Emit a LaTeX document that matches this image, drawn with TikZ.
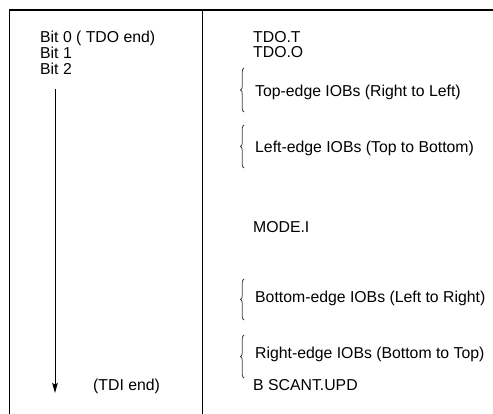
\documentclass[tikz,border=0pt]{standalone}
\usepackage{fontspec}
\setmainfont{Liberation Sans}
\usepackage{tikz}
\usetikzlibrary{arrows.meta, decorations.pathreplacing}

\tikzset{
  lbl/.style={anchor=base west, inner sep=0pt, font=\fontsize{15.8}{18}\selectfont},
  grp/.style={decorate, decoration={brace, amplitude=3.5pt}, line width=0.8pt, black!75}
}

\begin{document}
\begin{tikzpicture}[x=1pt, y=-1pt]
  \useasboundingbox (0,0) rectangle (493,414);
  % Frame
  \draw[line width=1.6pt] (9,10) -- (493,10);
  \draw[line width=1pt] (9,10) -- (9,414);
  \draw[line width=1pt] (202,10) -- (202,414);

  % Left column: bit order
  \node[lbl] (bit0) at (40,43) {Bit 0 ( TDO end)};
  \node[lbl] (bit1) at (40,59) {Bit 1};
  \node[lbl] (bit2) at (40,75) {Bit 2};
  \node[lbl] (tdi) at (93,390) {(TDI end)};
  \coordinate (atop) at (55,89);
  \coordinate (abot) at (55,393);
  \draw[line width=1pt, -{Stealth[length=10pt, width=5.5pt, inset=1.5pt]}] (atop) -- (abot);

  % Right column: register contents
  \node[lbl] (tdot) at (253,43) {TDO.T};
  \node[lbl] (tdoo) at (253,58) {TDO.O};
  \node[lbl] (top) at (255,97) {Top-edge IOBs (Right to Left)};
  \node[lbl] (left) at (255,153) {Left-edge IOBs (Top to Bottom)};
  \node[lbl] (mode) at (253,233) {MODE.I};
  \node[lbl] (bottom) at (255,302) {Bottom-edge IOBs (Left to Right)};
  \node[lbl] (right) at (255,358) {Right-edge IOBs (Bottom to Top)};
  \node[lbl] (upd) at (253,390) {B SCANT.UPD};

  % Braces
  \draw[grp] (244,112) -- (244,68);
  \draw[grp] (244,168) -- (244,125);
  \draw[grp] (244,320) -- (244,279);
  \draw[grp] (244,378) -- (244,335);
\end{tikzpicture}
\end{document}
